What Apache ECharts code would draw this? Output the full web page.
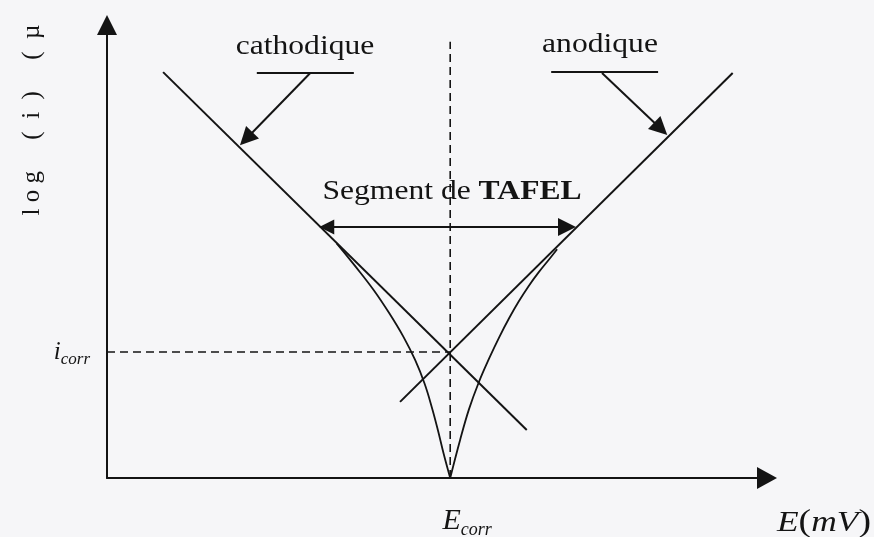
<!DOCTYPE html>
<html>
<head>
<meta charset="utf-8">
<script src="https://cdn.jsdelivr.net/npm/echarts@6/dist/echarts.min.js"></script>
<style>
  html, body { margin: 0; padding: 0; background: #f6f6f8; }
  #chart { width: 874px; height: 537px; }
</style>
</head>
<body>
<div id="chart"></div>
<script>
// Corrosion point (potential, log current)
const E_CORR = 52.0;
const I_CORR = 27.8;

// Tafel straight lines (E, log i)
const cathodicTafel = [[8.5, 89.6], [63.6, 10.6]];
const anodicTafel = [[44.4, 16.8], [94.8, 89.4]];

// Measured polarisation branches
const cathodicCurve = [
  [34.8, 51.8], [37.7, 46.6], [40.4, 41.5], [42.8, 36.3], [44.9, 31.2],
  [46.7, 26.0], [48.1, 20.9], [49.2, 15.7], [50.15, 10.5], [51.0, 5.4], [52.0, 0]
];
const anodicCurve = [
  [52.0, 0], [53.5, 8.4], [54.85, 15.2], [56.35, 21.2], [57.9, 26.4], [59.4, 31.0],
  [60.9, 35.2], [62.4, 39.0], [63.9, 42.4], [65.45, 45.5], [67.0, 48.3], [68.2, 50.5]
];

// Tafel segment span (double arrow)
const tafelSpan = [[33.3, 55.4], [69.7, 55.4]];

// Leader lines for the branch names
const cathodicLeader = [[30.8, 89.4], [21.1, 74.9]];
const cathodicUnderline = [[22.7, 89.4], [37.4, 89.4]];
const anodicLeader = [[75.0, 89.4], [83.9, 77.1]];
const anodicUnderline = [[67.3, 89.6], [83.5, 89.6]];

const INK = '#141414';
const SERIF = '"Liberation Serif", "Times New Roman", serif';

const chart = echarts.init(document.getElementById('chart'), null, { renderer: 'canvas' });

const solid = (w) => ({ color: INK, width: w });

chart.setOption({
  animation: false,
  backgroundColor: '#f6f6f8',
  grid: { left: 107, right: 107, top: 25, bottom: 59, containLabel: false, outerBoundsMode: 'none' },
  xAxis: {
    type: 'value', min: 0, max: 100,
    splitLine: { show: false },
    axisTick: { show: false },
    axisLine: {
      lineStyle: { color: INK, width: 2 },
      symbol: ['none', 'triangle'], symbolSize: [22, 20]
    },
    axisLabel: {
      customValues: [E_CORR],
      margin: 25,
      padding: [0, 0, 0, 34],
      formatter: () => '{e|E}{s|corr}',
      rich: {
        e: { fontFamily: SERIF, fontStyle: 'italic', fontSize: 30, color: INK },
        s: { fontFamily: SERIF, fontStyle: 'italic', fontSize: 18, color: INK, padding: [18, 0, 0, 0] }
      }
    }
  },
  yAxis: {
    type: 'value', min: 0, max: 100,
    splitLine: { show: false },
    axisTick: { show: false },
    axisLine: {
      lineStyle: { color: INK, width: 2 },
      symbol: ['none', 'triangle'], symbolSize: [20, 20]
    },
    axisLabel: {
      customValues: [I_CORR],
      margin: 17,
      formatter: () => '{i|i}{s|corr}',
      rich: {
        i: { fontFamily: SERIF, fontStyle: 'italic', fontSize: 25, color: INK },
        s: { fontFamily: SERIF, fontStyle: 'italic', fontSize: 17, color: INK, padding: [14, 0, 0, 0] }
      }
    }
  },
  series: [
    { name: 'Droite cathodique', type: 'line', data: cathodicTafel, symbol: 'none', lineStyle: solid(2) },
    { name: 'Droite anodique', type: 'line', data: anodicTafel, symbol: 'none', lineStyle: solid(2) },
    {
      name: 'Branche cathodique', type: 'line', data: cathodicCurve, symbol: 'none',
      smooth: 0.4, lineStyle: solid(1.8)
    },
    {
      name: 'Branche anodique', type: 'line', data: anodicCurve, symbol: 'none',
      smooth: 0.4, lineStyle: solid(1.8)
    },
    {
      name: 'E corr', type: 'line', symbol: 'none',
      data: [[E_CORR, 0], [E_CORR, 96.3]],
      lineStyle: { color: INK, width: 1.6, type: [8, 5] }
    },
    {
      name: 'i corr', type: 'line', symbol: 'none',
      data: [[0, I_CORR], [E_CORR, I_CORR]],
      lineStyle: { color: INK, width: 1.6, type: [8, 5] }
    },
    {
      name: 'Segment de Tafel', type: 'lines', coordinateSystem: 'cartesian2d',
      symbol: ['triangle', 'triangle'], symbolSize: [15, 18],
      lineStyle: { color: INK, width: 2, opacity: 1 },
      data: [{ coords: tafelSpan }]
    },
    {
      name: 'Repères', type: 'lines', coordinateSystem: 'cartesian2d',
      symbol: ['none', 'triangle'], symbolSize: [15, 18],
      lineStyle: { color: INK, width: 2, opacity: 1 },
      data: [{ coords: cathodicLeader }, { coords: anodicLeader }]
    },
    {
      name: 'Soulignés', type: 'lines', coordinateSystem: 'cartesian2d',
      symbol: 'none',
      lineStyle: { color: INK, width: 2, opacity: 1 },
      data: [{ coords: cathodicUnderline }, { coords: anodicUnderline }]
    }
  ],
  graphic: [
    {
      type: 'text', x: 305, y: 47, scaleX: 1.17,
      style: { text: 'cathodique', font: '27px ' + SERIF, fill: INK, align: 'center', verticalAlign: 'middle' }
    },
    {
      type: 'text', x: 600, y: 45, scaleX: 1.17,
      style: { text: 'anodique', font: '27px ' + SERIF, fill: INK, align: 'center', verticalAlign: 'middle' }
    },
    {
      type: 'text', x: 452, y: 192, scaleX: 1.17,
      style: {
        text: '{n|Segment de }{b|TAFEL}', align: 'center', verticalAlign: 'middle',
        rich: {
          n: { fontFamily: SERIF, fontSize: 27, fill: INK },
          b: { fontFamily: SERIF, fontSize: 27, fontWeight: 'bold', fill: INK }
        }
      }
    },
    {
      type: 'text', x: 32, y: 120, rotation: Math.PI / 2,
      style: { text: 'l o g     (  i  )     (  µ', font: '25px ' + SERIF, fill: INK, align: 'center', verticalAlign: 'middle' }
    },
    {
      type: 'text', x: 777, y: 523, scaleX: 1.18,
      style: {
        text: '{v|E}{p|(}{v|mV}{p|)}', align: 'left', verticalAlign: 'middle',
        rich: {
          v: { fontFamily: SERIF, fontStyle: 'italic', fontSize: 30, fill: INK },
          p: { fontFamily: SERIF, fontSize: 32, fill: INK }
        }
      }
    }
  ]
});
</script>
</body>
</html>
